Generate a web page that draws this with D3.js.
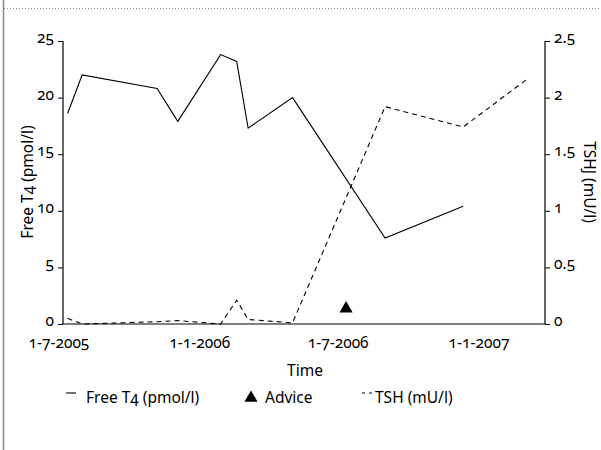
<!DOCTYPE html>
<html>
<head>
<meta charset="utf-8">
<script src="https://cdn.jsdelivr.net/npm/d3@7"></script>
<style>
  body { margin: 0; background: #fff; }
  svg text { font-family: "Noto Sans", sans-serif; font-variant-numeric: oldstyle-nums; fill: #000; }
</style>
</head>
<body>
<svg id="chart" width="601" height="450"></svg>
<script>
// sample dates (free T4 and TSH measured together, last TSH only)
const t4Dates  = ["2005-07-13", "2005-08-01", "2005-11-07", "2005-12-04", "2006-01-29",
                  "2006-02-19", "2006-03-06", "2006-05-03", "2006-09-01", "2006-12-12"];
const t4Values = [18.6, 22.0, 20.8, 17.9, 23.8, 23.2, 17.3, 20.0, 7.6, 10.4];

const tshDates  = ["2005-07-13", "2005-08-01", "2005-11-07", "2005-12-04", "2006-01-29",
                   "2006-02-19", "2006-03-06", "2006-05-03", "2006-09-01", "2006-12-12", "2007-03-05"];
const tshValues = [0.05, 0.0, 0.02, 0.03, 0.0, 0.21, 0.04, 0.01, 1.92, 1.74, 2.16];

const adviceDates  = ["2006-07-12"];
const adviceValues = [1.35];

const xTickDates  = ["2005-07-01", "2006-01-01", "2006-07-01", "2007-01-01"];
const xTickLabels = ["1-7-2005", "1-1-2006", "1-7-2006", "1-1-2007"];
const leftTicks   = [0, 5, 10, 15, 20, 25];
const rightTicks  = [0, 0.5, 1, 1.5, 2, 2.5];

const parse = d3.timeParse("%Y-%m-%d");
const FS = 15.5;

const svg = d3.select("#chart");

// frame
svg.append("line").attr("x1", 3.5).attr("x2", 3.5).attr("y1", 0).attr("y2", 450)
   .attr("stroke", "#888").attr("stroke-width", 1.5);
svg.append("line").attr("x1", 4).attr("x2", 601).attr("y1", 8.5).attr("y2", 8.5)
   .attr("stroke", "#888").attr("stroke-dasharray", "1,2");

let x = d3.scaleTime()
    .domain([parse("2005-07-07"), parse("2007-03-29")])
    .range([63, 545]);
let yLeft  = d3.scaleLinear().domain([0, 25]).range([324, 41]);
let yRight = d3.scaleLinear().domain([0, 2.5]).range([324, 41]);

const fmt = d3.format("");

let gLeft = svg.append("g").attr("transform", "translate(63,0)")
  .call(d3.axisLeft(yLeft).tickValues(leftTicks).tickSize(5).tickPadding(4).tickFormat(fmt));
let gRight = svg.append("g").attr("transform", "translate(545,0)")
  .call(d3.axisRight(yRight).tickValues(rightTicks).tickSize(5).tickPadding(4).tickFormat(fmt));
let gBottom = svg.append("g").attr("transform", "translate(0,324)")
  .call(d3.axisBottom(x).tickValues(xTickDates.map(parse)).tickSize(0).tickPadding(13)
          .tickFormat((d, i) => xTickLabels[i]));

[gLeft, gRight, gBottom].forEach(g => {
  g.select(".domain").attr("stroke", "#000").attr("stroke-width", 1.2);
  g.selectAll("text").attr("font-size", FS).attr("font-family", null);
});
gLeft.select(".domain").attr("d", "M0,41V324");
gRight.select(".domain").attr("d", "M0,41V324");
gBottom.select(".domain").attr("d", "M63,0H545");
gLeft.selectAll(".tick text").attr("dy", "0.1em");
gRight.selectAll(".tick text").attr("dy", "0.1em");

// axis titles
svg.append("text").attr("x", 305).attr("y", 376).attr("text-anchor", "middle")
   .attr("font-size", FS).text("Time");
svg.append("text").attr("transform", "translate(33,182) rotate(-90)")
   .attr("text-anchor", "middle").attr("font-size", FS).text("Free T4 (pmol/l)");
svg.append("text").attr("transform", "translate(584,182) rotate(90)")
   .attr("text-anchor", "middle").attr("font-size", FS).text("TSHJ (mU/l)");

// series
const t4 = t4Dates.map((d, i) => ({ date: parse(d), v: t4Values[i] }));
const tsh = tshDates.map((d, i) => ({ date: parse(d), v: tshValues[i] }));
const advice = adviceDates.map((d, i) => ({ date: parse(d), v: adviceValues[i] }));

svg.append("path").datum(t4)
   .attr("fill", "none").attr("stroke", "#000").attr("stroke-width", 1.1)
   .attr("d", d3.line().x(d => x(d.date)).y(d => yLeft(d.v)));

svg.append("path").datum(tsh)
   .attr("fill", "none").attr("stroke", "#000").attr("stroke-width", 1.1)
   .attr("stroke-dasharray", "5,4")
   .attr("d", d3.line().x(d => x(d.date)).y(d => yRight(d.v)));

svg.selectAll(".advice").data(advice).enter().append("path")
   .attr("class", "advice")
   .attr("transform", d => "translate(" + x(d.date) + "," + yLeft(d.v) + ")")
   .attr("d", d3.symbol(d3.symbolTriangle, 75))
   .attr("fill", "#000");

// legend
let legend = svg.append("g").attr("transform", "translate(0,398)");
legend.append("line").attr("x1", 66).attr("x2", 76).attr("y1", -5).attr("y2", -5)
      .attr("stroke", "#000").attr("stroke-width", 1.1);
legend.append("text").attr("x", 86).attr("y", 5).attr("font-size", FS).text("Free T4 (pmol/l)");
legend.append("path").attr("transform", "translate(251,0)")
      .attr("d", d3.symbol(d3.symbolTriangle, 75)).attr("fill", "#000");
legend.append("text").attr("x", 265).attr("y", 5).attr("font-size", FS).text("Advice");
legend.append("line").attr("x1", 362).attr("x2", 372).attr("y1", -5).attr("y2", -5)
      .attr("stroke", "#000").attr("stroke-width", 1.1).attr("stroke-dasharray", "3,4");
legend.append("text").attr("x", 375).attr("y", 5).attr("font-size", FS).text("TSH (mU/l)");
</script>
</body>
</html>
